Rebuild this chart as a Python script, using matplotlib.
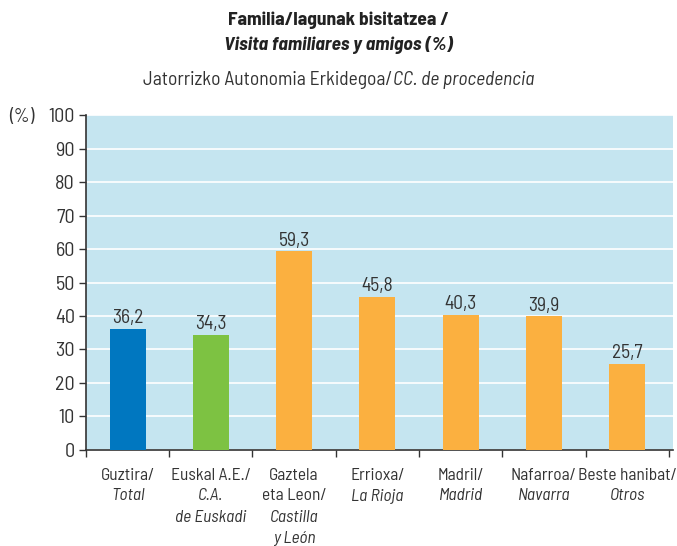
import matplotlib
matplotlib.use("Agg")
import matplotlib.pyplot as plt
from matplotlib.transforms import blended_transform_factory

plt.rcParams['font.family'] = ['Barlow Semi Condensed', 'DejaVu Sans']

values = [36.2, 34.3, 59.3, 45.8, 40.3, 39.9, 25.7]
value_labels = ["36,2", "34,3", "59,3", "45,8", "40,3", "39,9", "25,7"]
labels_eu = [["Guztira/"], ["Euskal A.E./"], ["Gaztela", "eta Leon/"], ["Errioxa/"],
             ["Madril/"], ["Nafarroa/"], ["Beste hanibat/"]]
labels_es = [["Total"], ["C.A.", "de Euskadi"], ["Castilla", "y León"], ["La Rioja"],
             ["Madrid"], ["Navarra"], ["Otros"]]
colors = ["#0077c0", "#7dc242", "#fbb040", "#fbb040", "#fbb040", "#fbb040", "#fbb040"]
yticks = [0, 10, 20, 30, 40, 50, 60, 70, 80, 90, 100]

TXT = "#333333"

fig = plt.figure(figsize=(6.77, 5.46), dpi=100)
ax = fig.add_axes([0.127, 0.176, 0.867, 0.613])
ax.set_facecolor("#c5e5f0")

x = list(range(len(values)))
ax.bar(x, values, width=0.43, color=colors, zorder=3)
for xi, v, t in zip(x, values, value_labels):
    ax.text(xi, v + 0.5, t, ha="center", va="bottom", fontsize=14, color=TXT, zorder=4)

ax.set_xlim(-0.5, len(values) - 0.45)
ax.set_ylim(0, 100)
ax.set_yticks(yticks)
ax.yaxis.grid(True, color="white", linewidth=1.2, zorder=1)
ax.set_axisbelow(True)
ax.tick_params(axis="y", labelsize=14.5, colors=TXT, length=5, width=1, pad=3)
ax.set_xticks([i - 0.5 for i in range(len(values) + 1)])
ax.set_xticklabels([])
ax.tick_params(axis="x", length=5, width=1, colors=TXT)
for s in ["top", "right"]:
    ax.spines[s].set_visible(False)
for s in ["left", "bottom"]:
    ax.spines[s].set_color(TXT)
    ax.spines[s].set_linewidth(1.2)

# "(%)" unit beside the top tick
ax.text(0.014, 99.5, "(%)", transform=blended_transform_factory(fig.transFigure, ax.transData),
        ha="left", va="center", fontsize=14, color=TXT)

# Category labels: Basque in roman, Spanish in italic
trans = blended_transform_factory(ax.transData, fig.transFigure)
line_h = 21 / 546
y0 = 1 - 475 / 546
for xi, eu, es in zip(x, labels_eu, labels_es):
    row = 0
    for ln in eu:
        ax.text(xi, y0 - row * line_h, ln, transform=trans, ha="center", va="center",
                fontsize=12.5, color=TXT)
        row += 1
    for ln in es:
        ax.text(xi, y0 - row * line_h, ln, transform=trans, ha="center", va="center",
                fontsize=12.5, color=TXT, fontstyle="italic")
        row += 1

fig.text(0.50, 1 - 20 / 546, "Familia/lagunak bisitatzea /", ha="center", va="center",
         fontsize=14, fontweight="bold", color="#222222")
fig.text(0.50, 1 - 45 / 546, "Visita familiares y amigos (%)", ha="center", va="center",
         fontsize=14, fontweight="bold", fontstyle="italic", color="#222222")
t1 = fig.text(0.0, 1 - 80 / 546, "Jatorrizko Autonomia Erkidegoa/", ha="left", va="center",
              fontsize=14, color=TXT)
t2 = fig.text(0.0, 1 - 80 / 546, "CC. de procedencia", ha="left", va="center",
              fontsize=14, color=TXT, fontstyle="italic")

fig.canvas.draw()
r = fig.canvas.get_renderer()
w1 = t1.get_window_extent(r).width
w2 = t2.get_window_extent(r).width
fw = fig.bbox.width
cx = 0.50 * fw
start = cx - (w1 + w2) / 2
t1.set_x(start / fw)
t2.set_x((start + w1) / fw)

fig.savefig("out.png", dpi=100)
